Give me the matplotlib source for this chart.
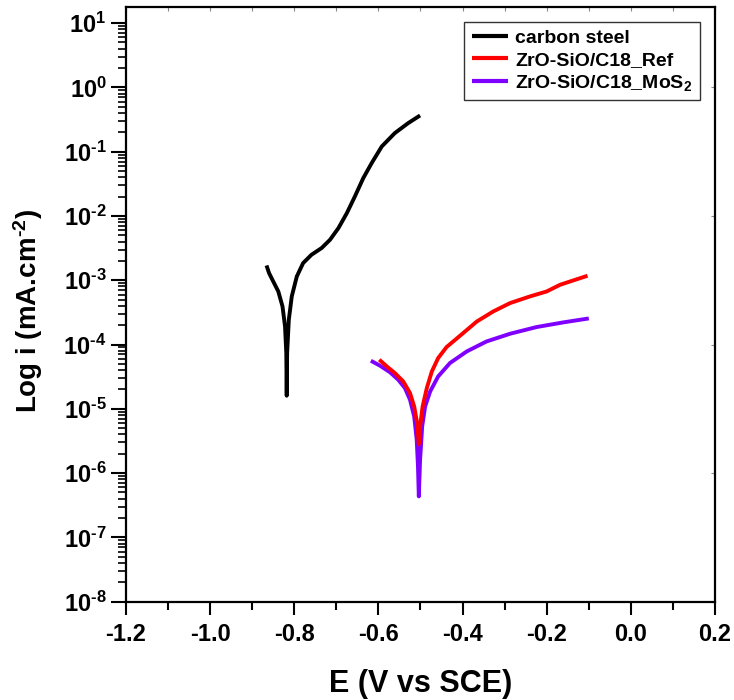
import numpy as np
import matplotlib
matplotlib.use('Agg')
import matplotlib.pyplot as plt
from matplotlib.ticker import MultipleLocator, LogLocator, FixedLocator, FuncFormatter, NullFormatter

plt.rcParams['font.family'] = ['Liberation Sans', 'DejaVu Sans']
plt.rcParams['font.weight'] = 'bold'
plt.rcParams['mathtext.fontset'] = 'custom'
plt.rcParams['mathtext.rm'] = 'Liberation Sans:bold'
plt.rcParams['mathtext.it'] = 'Liberation Sans:bold'
plt.rcParams['mathtext.bf'] = 'Liberation Sans:bold'

# potentials (V vs SCE) and log10 current density
steel_E = [-0.866, -0.860, -0.850, -0.838, -0.828, -0.822, -0.819, -0.818, -0.817, -0.813,
           -0.806, -0.794, -0.779, -0.759, -0.735, -0.715, -0.695, -0.675, -0.656, -0.636,
           -0.616, -0.592, -0.561, -0.529, -0.501]
steel_logi = [-2.770, -2.888, -3.019, -3.174, -3.407, -3.718, -4.132, -4.796, -4.132, -3.614,
              -3.252, -2.941, -2.733, -2.603, -2.499, -2.370, -2.188, -1.955, -1.697, -1.411,
              -1.177, -0.919, -0.711, -0.555, -0.437]

ref_E = [-0.598, -0.580, -0.561, -0.541, -0.525, -0.515, -0.508, -0.504, -0.501, -0.495,
         -0.485, -0.473, -0.458, -0.438, -0.406, -0.366, -0.327, -0.287, -0.240, -0.200,
         -0.168, -0.137, -0.103]
ref_logi = [-4.236, -4.341, -4.443, -4.574, -4.754, -4.963, -5.221, -5.550, -5.274, -4.963,
            -4.677, -4.418, -4.210, -4.039, -3.863, -3.641, -3.485, -3.355, -3.252, -3.174,
            -3.070, -3.003, -2.930]

mos2_E = [-0.618, -0.596, -0.572, -0.553, -0.537, -0.525, -0.515, -0.509, -0.506, -0.504,
          -0.501, -0.496, -0.489, -0.477, -0.458, -0.430, -0.390, -0.343, -0.287, -0.224,
          -0.161, -0.100]
mos2_logi = [-4.252, -4.330, -4.434, -4.547, -4.677, -4.858, -5.118, -5.481, -5.896, -6.362,
             -5.792, -5.274, -4.963, -4.729, -4.496, -4.288, -4.107, -3.952, -3.832, -3.728,
             -3.656, -3.594]

series = [
    ('carbon steel', steel_E, steel_logi, 'black'),
    ('ZrO-SiO/C18_MoS$_2$', mos2_E, mos2_logi, '#7F00FF'),
    ('ZrO-SiO/C18_Ref', ref_E, ref_logi, '#FF0000'),
]

fig = plt.figure(figsize=(7.34, 7.0), dpi=100)
ax = fig.add_axes([126 / 734, 1 - 601.7 / 700, (715 - 126) / 734, (601.7 - 7) / 700])

handles = {}
for name, E, logi, col in series:
    line, = ax.plot(E, 10 ** np.array(logi), color=col, lw=2.8,
                    solid_joinstyle='round', solid_capstyle='butt')
    handles[name] = line

ax.set_yscale('log')
ax.set_xlim(-1.2, 0.2)
ax.set_ylim(1e-8, 10 ** 1.25)

ax.xaxis.set_major_locator(MultipleLocator(0.2))
ax.xaxis.set_minor_locator(MultipleLocator(0.1))
ax.xaxis.set_major_formatter(FuncFormatter(lambda v, p: f'{v:.1f}'.replace('-0.0', '0.0')))

decades = list(range(-8, 2))
ax.yaxis.set_major_locator(FixedLocator([10.0 ** d for d in decades]))
ax.set_yticklabels([f'$10^{{{d}}}$'.replace('-', '\u2010') for d in decades])
ax.yaxis.set_minor_locator(LogLocator(base=10, subs=np.arange(2, 10), numticks=20))
ax.yaxis.set_minor_formatter(NullFormatter())

ax.tick_params(axis='both', which='major', direction='out', width=1.5, labelsize=17)
ax.tick_params(axis='x', which='major', length=9, pad=6)
ax.tick_params(axis='x', which='minor', direction='out', length=6, width=1.5)
ax.tick_params(axis='y', which='major', length=11, pad=3)
ax.tick_params(axis='y', which='minor', direction='out', length=6, width=1.2)

for s in ax.spines.values():
    s.set_linewidth(1.6)

# faint mirrored ticks on top and right
top = ax.secondary_xaxis('top')
top.xaxis.set_major_locator(MultipleLocator(0.1))
top.tick_params(direction='in', length=3, width=0.8, colors='#888888', labeltop=False)
top.spines['top'].set_visible(False)
right = ax.secondary_yaxis('right')
right.tick_params(which='both', direction='in', length=3, width=0.8, colors='#888888', labelright=False)
right.spines['right'].set_visible(False)

ax.set_xlabel('E (V vs SCE)', fontsize=22, fontweight='bold', labelpad=17)
ax.set_ylabel('Log i (mA.cm$^{\u20102}$)', fontsize=20, fontweight='bold')
ax.yaxis.set_label_coords(-0.138, 0.489)

order = ['carbon steel', 'ZrO-SiO/C18_Ref', 'ZrO-SiO/C18_MoS$_2$']
leg = ax.legend([handles[n] for n in order], order, loc='upper right',
                bbox_to_anchor=(0.985, 0.985), fontsize=14, frameon=True, fancybox=False,
                handlelength=1.85, handletextpad=0.4, labelspacing=0.2, borderpad=0.4,
                borderaxespad=0.3)
leg.get_frame().set_edgecolor('black')
leg.get_frame().set_linewidth(1.0)
for t in leg.get_texts():
    t.set_fontweight('bold')
for lh in leg.get_lines():
    lh.set_linewidth(3)

fig.savefig('out.png', dpi=100)
